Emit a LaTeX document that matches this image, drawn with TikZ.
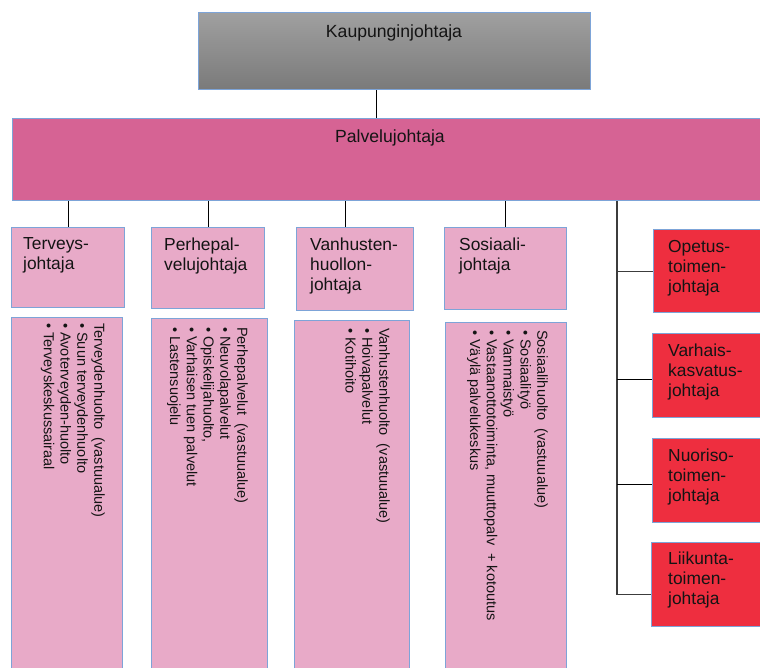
\documentclass[tikz,border=0pt]{standalone}
\usepackage{fontspec}
\setmainfont{Liberation Sans}
\usetikzlibrary{calc}
\definecolor{bordc}{RGB}{125,164,216}
\definecolor{palc}{RGB}{214,99,148}
\definecolor{pinkc}{RGB}{232,170,200}
\definecolor{redc}{RGB}{238,46,63}
\definecolor{graytop}{RGB}{160,160,160}
\definecolor{graybot}{RGB}{122,122,122}
\definecolor{trunkc}{RGB}{60,60,60}
\definecolor{txtc}{RGB}{20,20,20}
\tikzset{
  boxbase/.style={draw=bordc, line width=1.2pt, rectangle, anchor=north west, inner sep=0pt},
  graybox/.style={boxbase, top color=graytop, bottom color=graybot},
  palbox/.style={boxbase, fill=palc},
  pinkbox/.style={boxbase, fill=pinkc},
  redbox/.style={boxbase, fill=redc},
  headtxt/.style={inner sep=0pt, text=txtc, font=\fontsize{17.6}{20}\selectfont},
  celltxt/.style={inner sep=0pt, anchor=north west, align=left, text=txtc, font=\fontsize{17.4}{20}\selectfont},
  listtxt/.style={inner sep=0pt, anchor=north west, align=left, rotate=-90, text=txtc, font=\fontsize{14.5}{16.8}\selectfont},
  conn/.style={draw=black, line width=0.9pt},
  trunk/.style={draw=trunkc, line width=1.3pt}
}
\begin{document}
\begin{tikzpicture}[x=1pt,y=-1pt]
\clip (0,0) rectangle (760,668);
\fill[white] (0,0) rectangle (760,668);
% top boxes
\node[graybox, minimum width=392pt, minimum height=77pt] (kj) at (198,12) {};
\node[headtxt] (kjt) at (394,32.5) {Kaupunginjohtaja};
\node[palbox, minimum width=758pt, minimum height=82pt] (pal) at (12,118) {};
\node[headtxt] (palt) at (390,138) {Palvelujohtaja};
% child boxes
\node[pinkbox, minimum width=113pt, minimum height=80pt] (b1) at (11,227) {};
\node[pinkbox, minimum width=113pt, minimum height=81pt] (b2) at (151,227) {};
\node[pinkbox, minimum width=117pt, minimum height=83pt] (b3) at (296,227) {};
\node[pinkbox, minimum width=122pt, minimum height=82pt] (b4) at (444,227) {};
\node[celltxt] (b1t) at (23,237.4) {Terveys-\\johtaja};
\node[celltxt] (b2t) at (164,237.4) {Perhepal-\\velujohtaja};
\node[celltxt] (b3t) at (310,237.4) {Vanhusten-\\huollon-\\johtaja};
\node[celltxt] (b4t) at (459,237.4) {Sosiaali-\\johtaja};
% red boxes
\node[redbox, minimum width=122pt, minimum height=83pt] (r1) at (653,229) {};
\node[redbox, minimum width=123pt, minimum height=84pt] (r2) at (652,333) {};
\node[redbox, minimum width=123pt, minimum height=84pt] (r3) at (652,438) {};
\node[redbox, minimum width=124pt, minimum height=84pt] (r4) at (651,542) {};
\node[celltxt] (r1t) at (668,240.4) {Opetus-\\toimen-\\johtaja};
\node[celltxt] (r2t) at (668,344.1) {Varhais-\\kasvatus-\\johtaja};
\node[celltxt] (r3t) at (668,449.1) {Nuoriso-\\toimen-\\johtaja};
\node[celltxt] (r4t) at (668,551.4) {Liikunta-\\toimen-\\johtaja};
% list boxes
\node[pinkbox, minimum width=111pt, minimum height=370pt] (l1) at (11,317) {};
\node[pinkbox, minimum width=116pt, minimum height=370pt] (l2) at (151,318) {};
\node[pinkbox, minimum width=115pt, minimum height=370pt] (l3) at (294,320) {};
\node[pinkbox, minimum width=121pt, minimum height=370pt] (l4) at (445,322) {};
\node[listtxt] (l1t) at (105,323) {Terveydenhuolto\ \ (vastuualue)\\• Suun terveydenhuolto\\• Avoterveyden-huolto\\• Terveyskeskussairaal};
\node[listtxt] (l2t) at (248,327) {Perhepalvelut\ \ (vastuualue)\\• Neuvolapalvelut\\• Opiskelijahuolto,\\• Varhaisen tuen palvelut\\• Lastensuojelu};
\node[listtxt] (l3t) at (390,328) {Vanhustenhuolto\ \ (vastuualue)\\• Hoivapalvelut\\• Kotihoito};
\node[listtxt] (l4t) at (548,330) {Sosiaalihuolto\ \ (vastuualue)\\• Sosiaalityö\\• Vammaistyö\\• Vastaanottotoiminta,\ muuttopalv\ \ + kotoutus\\• Väylä palvelukeskus};
% connectors
\coordinate (ck) at (376,0);
\coordinate (c3) at (345,0);
\coordinate (tr) at (617,0);
\draw[conn] (kj.south -| ck) -- (pal.north -| ck);
\draw[conn] (pal.south -| b1.north) -- (b1.north);
\draw[conn] (pal.south -| b2.north) -- (b2.north);
\draw[conn] (pal.south -| c3) -- (b3.north -| c3);
\draw[conn] (pal.south -| b4.north) -- (b4.north);
\coordinate (rb1) at ($(r1.west)+(0,0.5)$);
\coordinate (rb2) at ($(r2.west)+(0,4)$);
\coordinate (rb3) at ($(r3.west)+(0,4)$);
\coordinate (rb4) at ($(r4.west)+(0,10)$);
\draw[trunk] (pal.south -| tr) -- (rb4 -| tr);
\draw[trunk] (rb1 -| tr) -- (rb1);
\draw[conn] (rb2 -| tr) -- (rb2);
\draw[conn] (rb3 -| tr) -- (rb3);
\draw[trunk] (rb4 -| tr) -- (rb4);
\end{tikzpicture}
\end{document}
